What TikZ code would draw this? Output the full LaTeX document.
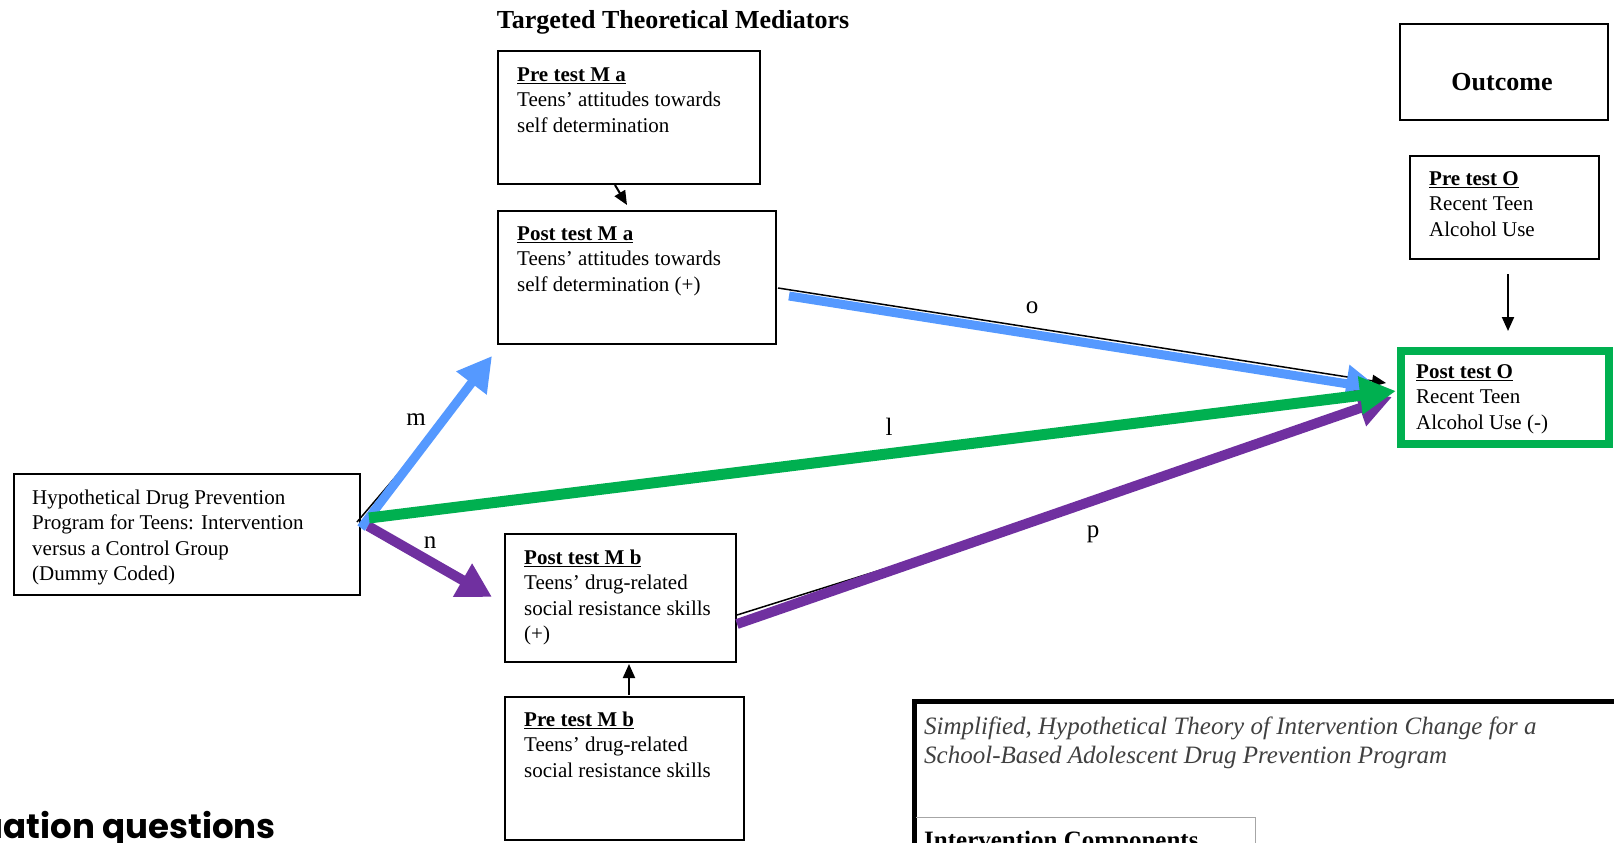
\documentclass[tikz,border=0pt]{standalone}
\usepackage{fontspec}
\setmainfont{Liberation Serif}
\newfontfamily\evalfont{Poppins}
\usetikzlibrary{arrows.meta,calc}
\definecolor{pathblue}{HTML}{5599FF}
\definecolor{pathgreen}{HTML}{00B050}
\definecolor{pathpurple}{HTML}{7030A0}
\definecolor{notegray}{HTML}{404040}
% first-line strut: puts the first baseline 16pt below the node top
\newcommand{\firstline}{\rule{0pt}{16pt}}

\begin{document}
\begin{tikzpicture}[x=1pt,y=-1pt,
  box/.style={draw=black,line width=2pt,inner sep=0pt,anchor=north west},
  boxtext/.style={anchor=north west,inner sep=0pt,align=left,font=\fontsize{21}{25.5}\selectfont},
  lbl/.style={inner sep=0pt,font=\fontsize{25}{27}\selectfont},
  link/.style={line width=2pt,-{Triangle[length=14pt,width=12pt]}},
  under/.style={line width=1.5pt},
  fat/.style={-{Triangle[length=34pt,width=36pt]}},
]
\useasboundingbox (0,0) rectangle (1614,843);
\fill[white] (0,0) rectangle (1614,843);
\clip (0,0) rectangle (1614,843);

% heading over the mediators
\node[anchor=base,inner sep=0pt,font=\bfseries\fontsize{26}{28}\selectfont] (title) at (673,29) {Targeted Theoretical Mediators};

% mediator boxes
\node[box,minimum width=262pt,minimum height=133pt] (prema) at (497,50) {};
\node[boxtext] (prematxt) at ($(prema.north west)+(20,15)$) {\firstline\underline{\textbf{Pre test M a}}\\Teens’ attitudes towards\\self determination};

\node[box,minimum width=278pt,minimum height=133pt] (postma) at (497,210) {};
\node[boxtext] (postmatxt) at ($(postma.north west)+(20,14)$) {\firstline\underline{\textbf{Post test M a}}\\Teens’ attitudes towards\\self determination (+)};

\node[box,minimum width=231pt,minimum height=128pt] (postmb) at (504,533) {};
\node[boxtext] (postmbtxt) at ($(postmb.north west)+(20,15)$) {\firstline\underline{\textbf{Post test M b}}\\Teens’ drug-related\\social resistance skills\\(+)};

\node[box,minimum width=239pt,minimum height=143pt] (premb) at (504,696) {};
\node[boxtext] (prembtxt) at ($(premb.north west)+(20,14)$) {\firstline\underline{\textbf{Pre test M b}}\\Teens’ drug-related\\social resistance skills};

% program box
\node[box,minimum width=346pt,minimum height=121pt] (hyp) at (13,473) {};
\node[boxtext] (hyptxt) at ($(hyp.north west)+(19,15)$) {\firstline Hypothetical Drug Prevention\\Program for Teens: Intervention\\versus a Control Group\\(Dummy Coded)};

% outcome column
\node[box,minimum width=208pt,minimum height=96pt] (outcome) at (1399,23) {};
\node[anchor=base,inner sep=0pt,font=\bfseries\fontsize{26}{28}\selectfont] (outcometxt) at (1502,90) {Outcome};

\node[box,minimum width=189pt,minimum height=103pt] (preo) at (1409,155) {};
\node[boxtext] (preotxt) at ($(preo.north west)+(20,14)$) {\firstline\underline{\textbf{Pre test O}}\\Recent Teen\\Alcohol Use};

\node[box,draw=pathgreen,line width=8pt,minimum width=208pt,minimum height=93pt] (posto) at (1397,347) {};
\node[boxtext] (postotxt) at ($(posto.north west)+(19,15)$) {\firstline\underline{\textbf{Post test O}}\\Recent Teen\\Alcohol Use (-)};

% pre test to post test links
\draw[link] ($(prema.south west)+(118,0)$) -- ($(postma.north west)+(130,-5)$);
\draw[link] ($(premb.north west)+(125,-1)$) -- ($(postmb.south west)+(125,1)$);
\draw[link] ($(preo.south west)+(99,14)$) -- ($(posto.north west)+(111,-16)$);

% thin black paths beneath the coloured ones
\draw[under] ($(hyp.north east)+(-4,49)$) -- ($(hyp.north east)+(66,-33)$);
\draw[under,-{Triangle[length=14pt,width=12pt]}] ($(postma.north east)+(1,78)$) -- ($(posto.north west)+(-11,36)$);
\draw[under] ($(postmb.north east)+(0,82)$) -- ($(postmb.north east)+(265,-1)$);

% coloured paths
\draw[fat,pathblue,line width=9pt] ($(hyp.north east)+(0,55)$) -- ($(postma.south west)+(-5,11)$);
\draw[fat,pathblue,line width=9pt] ($(postma.north east)+(12,86)$) -- ($(posto.north west)+(-17,42)$);
\draw[fat,pathpurple,line width=10pt] ($(hyp.north east)+(7,53)$) -- ($(postmb.north west)+(-12,64)$);
\draw[fat,pathpurple,line width=10pt] ($(postmb.north east)+(0,91)$) -- ($(posto.north west)+(-5,50)$);
\draw[pathgreen,line width=11pt,-{Triangle[length=36pt,width=36pt]}] ($(hyp.north east)+(8,45)$) -- ($(posto.north west)+(-1,44)$);

% path labels
\node[lbl] (labm) at (416,420) {m};
\node[lbl] (labn) at (430,543) {n};
\node[lbl] (labl) at (889,427) {l};
\node[lbl] (labo) at (1032,308) {o};
\node[lbl] (labp) at (1093,534) {p};

% caption panel
\draw[line width=5pt] (914,880) -- (914,701.5) -- (1650,701.5);
\draw[gray!70,line width=1pt] (916,817) -- (1255,817) -- (1255,880);
\node[anchor=north west,inner sep=0pt,align=left,text=notegray,font=\itshape\fontsize{25}{29.5}\selectfont] (caption) at (924,714) {\rule{0pt}{20pt}Simplified, Hypothetical Theory of Intervention Change for a\\School-Based Adolescent Drug Prevention Program};
\node[anchor=base west,inner sep=0pt,font=\bfseries\fontsize{25}{27}\selectfont] (components) at (924,848) {Intervention Components};

% section heading at the lower left
\node[anchor=base east,inner sep=0pt,font=\evalfont\bfseries\fontsize{34}{36}\selectfont] (evalq) at (276,838) {Evaluation questions};
\end{tikzpicture}
\end{document}
